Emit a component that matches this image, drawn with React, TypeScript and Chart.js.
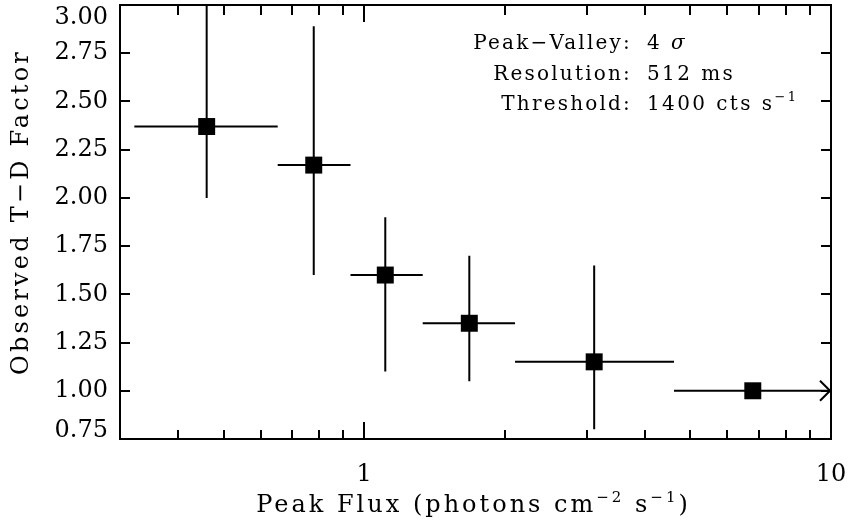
import { useEffect, useRef } from 'react';
import { Chart, registerables } from 'chart.js';

Chart.register(...registerables);

// ---- data ----
const fluxCenter = [0.46, 0.78, 1.11, 1.68, 3.11, 6.8];
const fluxLow = [0.322, 0.653, 0.935, 1.335, 2.105, 4.61];
const fluxHigh = [0.653, 0.935, 1.335, 2.105, 4.61, 10];
const tdFactor = [2.37, 2.17, 1.6, 1.35, 1.15, 1.0];
const tdLow = [2.0, 1.6, 1.1, 1.05, 0.8, 1.0];
const tdHigh = [3.1, 2.89, 1.9, 1.7, 1.65, 1.0];
const lowerLimit = [false, false, false, false, false, true];

const xMajorTicks = [1, 10];
const xTickLabels = ['1', '10'];
const xMinorTicks = [0.4, 0.5, 0.6, 0.7, 0.8, 0.9, 2, 3, 4, 5, 6, 7, 8, 9];
const yTickValues = [0.75, 1.0, 1.25, 1.5, 1.75, 2.0, 2.25, 2.5, 2.75, 3.0];

const annotationLabels = ['Peak\u2212Valley:', 'Resolution:', 'Threshold:'];
const xTitle = 'Peak Flux (photons cm';
const yTitle = 'Observed T\u2212D Factor';

const FONT = "'DejaVu Serif', serif";

type Seg = { t: string; size: number; dy?: number; italic?: boolean };

function drawRich(ctx: CanvasRenderingContext2D, segs: Seg[], x: number, y: number, align: 'left' | 'right' | 'center', spacing: number) {
  ctx.save();
  (ctx as any).letterSpacing = spacing + 'px';
  ctx.textAlign = 'left';
  ctx.textBaseline = 'alphabetic';
  const widths = segs.map((s) => {
    ctx.font = `${s.italic ? 'italic ' : ''}${s.size}px ${FONT}`;
    return ctx.measureText(s.t).width;
  });
  const total = widths.reduce((a, b) => a + b, 0);
  let cx = align === 'left' ? x : align === 'right' ? x - total : x - total / 2;
  segs.forEach((s, i) => {
    ctx.font = `${s.italic ? 'italic ' : ''}${s.size}px ${FONT}`;
    ctx.fillText(s.t, cx, y + (s.dy || 0));
    cx += widths[i];
  });
  ctx.restore();
}

const decor = {
  id: 'decor',
  beforeDatasetsDraw(chart: any) {
    const { ctx, chartArea: a, scales } = chart;
    const x = scales.x;
    const y = scales.y;
    ctx.save();
    ctx.beginPath();
    ctx.rect(a.left, a.top, a.right - a.left, a.bottom - a.top);
    ctx.clip();
    ctx.strokeStyle = '#000';
    ctx.lineWidth = 2;
    for (let i = 0; i < tdFactor.length; i++) {
      const cy = y.getPixelForValue(tdFactor[i]);
      const xl = x.getPixelForValue(fluxLow[i]);
      const xh = x.getPixelForValue(fluxHigh[i]);
      const cx = x.getPixelForValue(fluxCenter[i]);
      ctx.beginPath();
      ctx.moveTo(xl, cy);
      ctx.lineTo(xh, cy);
      if (tdHigh[i] !== tdLow[i]) {
        ctx.moveTo(cx, y.getPixelForValue(tdLow[i]));
        ctx.lineTo(cx, y.getPixelForValue(tdHigh[i]));
      }
      ctx.stroke();
      if (lowerLimit[i]) {
        ctx.beginPath();
        ctx.moveTo(xh - 11, cy - 10);
        ctx.lineTo(xh - 1, cy);
        ctx.lineTo(xh - 11, cy + 10);
        ctx.stroke();
      }
    }
    ctx.restore();
  },
  afterDraw(chart: any) {
    const { ctx, chartArea: a, scales } = chart;
    const x = scales.x;
    const y = scales.y;
    ctx.save();
    ctx.strokeStyle = '#000';
    ctx.lineWidth = 2;
    ctx.strokeRect(a.left, a.top, a.right - a.left, a.bottom - a.top);
    ctx.beginPath();
    yTickValues.forEach((v) => {
      const py = Math.round(y.getPixelForValue(v));
      ctx.moveTo(a.left, py);
      ctx.lineTo(a.left + 10, py);
      ctx.moveTo(a.right, py);
      ctx.lineTo(a.right - 10, py);
    });
    xMinorTicks.forEach((v) => {
      const px = Math.round(x.getPixelForValue(v));
      ctx.moveTo(px, a.bottom);
      ctx.lineTo(px, a.bottom - 9);
      ctx.moveTo(px, a.top);
      ctx.lineTo(px, a.top + 10);
    });
    xMajorTicks.forEach((v) => {
      const px = Math.round(x.getPixelForValue(v));
      ctx.moveTo(px, a.bottom);
      ctx.lineTo(px, a.bottom - 17);
      ctx.moveTo(px, a.top);
      ctx.lineTo(px, a.top + 17);
    });
    ctx.stroke();

    ctx.fillStyle = '#000';
    // x title
    drawRich(
      ctx,
      [
        { t: xTitle, size: 24 },
        { t: '\u22122', size: 15, dy: -10 },
        { t: ' s', size: 24 },
        { t: '\u22121', size: 15, dy: -10 },
        { t: ')', size: 24 },
      ],
      (a.left + a.right) / 2 - 2,
      512,
      'center',
      3
    );
    // y title
    ctx.save();
    ctx.translate(28, (a.top + a.bottom) / 2 - 10);
    ctx.rotate(-Math.PI / 2);
    drawRich(ctx, [{ t: yTitle, size: 24 }], 0, 0, 'center', 3.2);
    ctx.restore();

    // annotations
    const rows = [49, 80, 110];
    const values: Seg[][] = [
      [{ t: '4 ', size: 20 }, { t: '\u03c3', size: 20, italic: true }],
      [{ t: '512 ms', size: 20 }],
      [{ t: '1400 cts s', size: 20 }, { t: '\u22121', size: 13, dy: -9 }],
    ];
    annotationLabels.forEach((lab, i) => {
      drawRich(ctx, [{ t: lab, size: 20 }], 632, rows[i], 'right', 2.2);
      drawRich(ctx, values[i], 647, rows[i], 'left', 2.4);
    });
    ctx.restore();
  },
};

export default function App() {
  const ref = useRef<HTMLCanvasElement>(null);
  useEffect(() => {
    if (!ref.current) return;
    const lastY = yTickValues.length - 1;
    const chart = new Chart(ref.current, {
      type: 'scatter',
      data: {
        datasets: [
          {
            data: fluxCenter.map((v, i) => ({ x: v, y: tdFactor[i] })),
            pointStyle: 'rect',
            pointRadius: 12,
            pointHoverRadius: 12,
            backgroundColor: '#000',
            borderWidth: 0,
            showLine: false,
          },
        ],
      },
      options: {
        animation: false,
        responsive: false,
        devicePixelRatio: 1,
        layout: { autoPadding: false, padding: { top: 5, right: 18, left: 0, bottom: 0 } },
        plugins: { legend: { display: false }, tooltip: { enabled: false } },
        scales: {
          x: {
            type: 'logarithmic',
            min: 0.3,
            max: 10,
            grid: { display: false },
            border: { display: false },
            afterBuildTicks: (s: any) => {
              s.ticks = xMajorTicks.map((v) => ({ value: v }));
            },
            afterFit: (s: any) => {
              s.height = 88;
              s.paddingLeft = 0;
              s.paddingRight = 0;
            },
            ticks: {
              autoSkip: false,
              maxRotation: 0,
              padding: 13,
              color: '#000',
              font: { family: FONT, size: 24 },
              callback: (_v: any, i: number) => xTickLabels[i],
            },
          },
          y: {
            min: 0.75,
            max: 3,
            grid: { display: false, drawTicks: false },
            border: { display: false },
            afterBuildTicks: (s: any) => {
              s.ticks = yTickValues.map((v) => ({ value: v }));
            },
            afterFit: (s: any) => {
              s.width = 120;
              s.paddingTop = 0;
              s.paddingBottom = 0;
            },
            ticks: {
              autoSkip: false,
              padding: 12,
              color: '#000',
              font: (c: any) => ({
                family: FONT,
                size: 24,
                lineHeight: c.index === 0 ? '17px' : c.index === lastY ? '25px' : 1.2,
              }),
              callback: (v: any, i: number) => {
                const s = Number(v).toFixed(2);
                if (i === 0) return [s, ''];
                if (i === lastY) return ['', s];
                return s;
              },
            },
          },
        },
      },
      plugins: [decor],
    } as any);
    return () => chart.destroy();
  }, []);
  return (
    <div style={{ position: 'fixed', left: 0, top: 0, width: 849, height: 527, background: '#fff' }}>
      <canvas ref={ref} width={849} height={527} style={{ display: 'block' }} />
    </div>
  );
}
